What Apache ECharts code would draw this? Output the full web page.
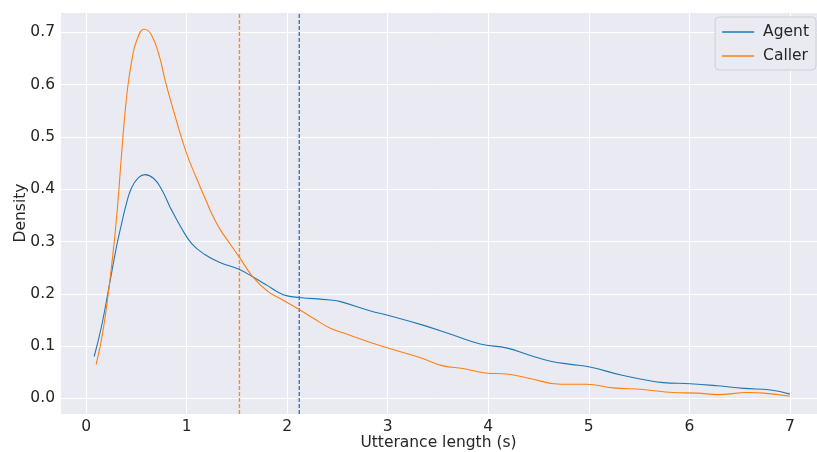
<!DOCTYPE html>
<html>
<head>
<meta charset="utf-8">
<script src="https://cdn.jsdelivr.net/npm/echarts@6/dist/echarts.min.js"></script>
<style>
  html, body { margin: 0; padding: 0; background: #fff; }
  #chart { width: 817px; height: 452px; }
</style>
</head>
<body>
<div id="chart"></div>
<script>
// utterance length (s) and density
const agentX = [0.08, 0.15, 0.22, 0.30, 0.35, 0.40, 0.45, 0.52, 0.586, 0.67, 0.75, 0.85, 0.95, 1.05, 1.18, 1.33, 1.52, 1.66, 1.80, 1.91, 2.00, 2.12, 2.43, 2.53, 2.83, 3.00, 3.35, 3.65, 3.92, 4.19, 4.42, 4.62, 4.82, 5.01, 5.31, 5.51, 5.74, 6.01, 6.28, 6.54, 6.81, 7.00]
const agentDensity = [0.080, 0.135, 0.205, 0.288, 0.332, 0.372, 0.402, 0.422, 0.428, 0.421, 0.400, 0.360, 0.325, 0.296, 0.275, 0.260, 0.247, 0.232, 0.216, 0.203, 0.196, 0.193, 0.188, 0.185, 0.167, 0.159, 0.140, 0.121, 0.104, 0.096, 0.082, 0.071, 0.065, 0.060, 0.045, 0.037, 0.030, 0.028, 0.024, 0.019, 0.016, 0.008]

const callerX = [0.10, 0.16, 0.22, 0.28, 0.32, 0.348, 0.38, 0.414, 0.455, 0.50, 0.577, 0.65, 0.73, 0.79, 0.90, 1.00, 1.10, 1.20, 1.25, 1.30, 1.35, 1.40, 1.52, 1.66, 1.81, 1.93, 2.12, 2.26, 2.43, 2.59, 2.92, 3.32, 3.55, 3.75, 3.99, 4.15, 4.39, 4.72, 4.98, 5.24, 5.54, 5.84, 6.08, 6.28, 6.58, 6.74, 7.00]
const callerDensity = [0.065, 0.120, 0.200, 0.300, 0.385, 0.456, 0.532, 0.596, 0.647, 0.683, 0.706, 0.695, 0.653, 0.605, 0.530, 0.468, 0.420, 0.375, 0.353, 0.334, 0.318, 0.304, 0.271, 0.232, 0.204, 0.191, 0.170, 0.153, 0.134, 0.123, 0.101, 0.078, 0.062, 0.057, 0.048, 0.047, 0.039, 0.027, 0.027, 0.020, 0.017, 0.011, 0.010, 0.007, 0.011, 0.010, 0.004]

// mean lengths (dashed lines)
const agentMean = 2.12
const callerMean = 1.525

const xMin = -0.26, xMax = 7.27
const yMin = -0.03, yMax = 0.739

const textColor = '#262626'
const font = 'DejaVu Sans'

function isTick(v, step) {
  const k = v / step
  return Math.abs(k - Math.round(k)) < 1e-6
}

// vertical dashed line spanning the whole y range
function meanSeries(name, value, color) {
  return {
    name: name,
    type: 'line',
    silent: true,
    showSymbol: false,
    z: 1,
    emphasis: { disabled: true },
    lineStyle: { type: [4, 2], width: 1.4, color: color },
    data: [[value, yMin], [value, yMax]]
  }
}

const chart = echarts.init(document.getElementById('chart'))

const option = {
  animation: false,
  color: ['#1f77b4', '#ff7f0e'],
  textStyle: { fontFamily: font },
  grid: {
    left: 60, right: 0, top: 12, bottom: 38,
    outerBoundsMode: 'none',
    containLabel: false,
    show: true, backgroundColor: '#eaeaf2', borderWidth: 0
  },
  legend: {
    orient: 'vertical',
    right: 1, top: 17,
    icon: 'rect',
    itemWidth: 32, itemHeight: 1.5,
    itemGap: 8,
    padding: [7, 7, 6, 7],
    backgroundColor: 'rgba(234,234,242,0.9)',
    borderColor: '#cfcfd6', borderWidth: 1, borderRadius: 4,
    textStyle: { color: textColor, fontSize: 15.5, fontFamily: font, padding: [0, 0, 0, 4] },
    data: ['Agent', 'Caller']
  },
  xAxis: {
    type: 'value',
    min: xMin, max: xMax,
    minInterval: 1, maxInterval: 1,
    name: 'Utterance length (s)',
    nameLocation: 'middle', nameGap: 21,
    nameMoveOverlap: false,
    nameTextStyle: { color: textColor, fontSize: 15.5, fontFamily: font },
    axisLine: { show: false },
    axisTick: { show: false },
    axisLabel: {
      color: textColor, fontSize: 15.5, margin: 5, fontFamily: font,
      formatter: v => isTick(v, 1) ? String(Math.round(v)) : ''
    },
    splitLine: { lineStyle: { color: '#ffffff', width: 1 } }
  },
  yAxis: {
    type: 'value',
    min: yMin, max: yMax,
    minInterval: 0.1, maxInterval: 0.1,
    name: 'Density',
    nameLocation: 'middle', nameGap: 31, nameRotate: 90,
    nameMoveOverlap: false,
    nameTextStyle: { color: textColor, fontSize: 15.5, fontFamily: font },
    axisLine: { show: false },
    axisTick: { show: false },
    axisLabel: {
      color: textColor, fontSize: 15.5, margin: 5, fontFamily: font,
      formatter: v => isTick(v, 0.1) ? v.toFixed(1) : ''
    },
    splitLine: { lineStyle: { color: '#ffffff', width: 1 } }
  },
  series: [
    meanSeries('Caller mean', callerMean, '#ff8c1a'),
    meanSeries('Agent mean', agentMean, '#4474ad'),
    {
      name: 'Agent',
      type: 'line',
      smooth: 0.45,
      showSymbol: false,
      z: 3,
      lineStyle: { width: 1.1, color: '#1f77b4' },
      data: agentX.map((x, i) => [x, agentDensity[i]])
    },
    {
      name: 'Caller',
      type: 'line',
      smooth: 0.45,
      showSymbol: false,
      z: 3,
      lineStyle: { width: 1.1, color: '#ff7f0e' },
      data: callerX.map((x, i) => [x, callerDensity[i]])
    }
  ]
}

chart.setOption(option)
</script>
</body>
</html>
